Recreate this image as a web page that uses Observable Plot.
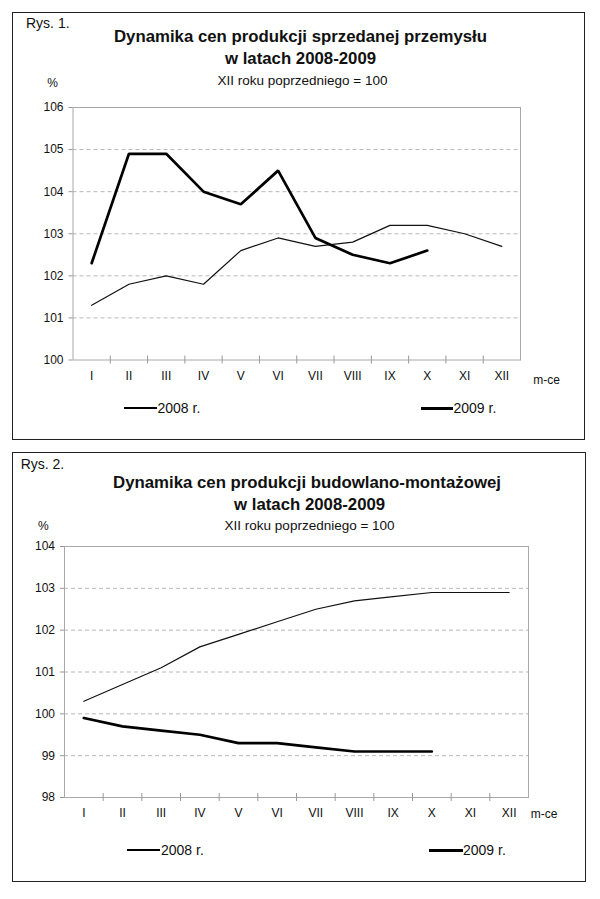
<!DOCTYPE html>
<html>
<head>
<meta charset="utf-8">
<script src="https://cdn.jsdelivr.net/npm/d3@7"></script>
<script src="https://cdn.jsdelivr.net/npm/@observablehq/plot@0.6"></script>
<style>
  html, body { margin: 0; padding: 0; background: #fff; }
  #page { position: relative; width: 600px; height: 899px; font-family: "Liberation Sans", Arial, sans-serif; color: #111; overflow: hidden; }
  .frame { position: absolute; box-sizing: border-box; border: 1.5px solid #222; }
  .t { position: absolute; white-space: nowrap; transform: translate(-50%, -50%); line-height: 1; }
  .l { position: absolute; white-space: nowrap; transform: translate(0, -50%); line-height: 1; }
  .title { font-weight: bold; font-size: 16.8px; }
  .sub { font-size: 13.5px; }
  .small { font-size: 12px; }
  .leg { font-size: 14px; }
  .legline { position: absolute; background: #000; }
  svg { position: absolute; left: 0; background: transparent; overflow: visible; }
</style>
</head>
<body>
<div id="page">
  <div class="frame" style="left:12px;top:12px;width:573px;height:428px;"></div>
  <div class="frame" style="left:12px;top:452px;width:574px;height:430px;"></div>

  <div class="l leg" style="left:26px;top:23px;">Rys. 1.</div>
  <div class="t title" style="left:300.5px;top:36.7px;">Dynamika cen produkcji sprzedanej przemysłu</div>
  <div class="t title" style="left:300.5px;top:59.3px;">w latach 2008-2009</div>
  <div class="t sub" style="left:302.5px;top:81px;">XII roku poprzedniego = 100</div>
  <div class="t small" style="left:52.7px;top:83.3px;">%</div>
  <div class="t small" style="left:546.7px;top:380px;">m-ce</div>
  <div class="legline" style="left:124px;top:407.4px;width:33px;height:1.2px;"></div>
  <div class="l leg" style="left:157.5px;top:408px;">2008 r.</div>
  <div class="legline" style="left:420.7px;top:406.5px;width:32.5px;height:3px;"></div>
  <div class="l leg" style="left:453.5px;top:408px;">2009 r.</div>

  <div class="l leg" style="left:20.7px;top:464px;">Rys. 2.</div>
  <div class="t title" style="left:307px;top:483.3px;">Dynamika cen produkcji budowlano-montażowej</div>
  <div class="t title" style="left:309.6px;top:505px;">w latach 2008-2009</div>
  <div class="t sub" style="left:309.6px;top:526px;">XII roku poprzedniego = 100</div>
  <div class="t small" style="left:43.3px;top:526px;">%</div>
  <div class="t small" style="left:544px;top:814px;">m-ce</div>
  <div class="legline" style="left:126.7px;top:849.4px;width:33.5px;height:1.2px;"></div>
  <div class="l leg" style="left:161px;top:850px;">2008 r.</div>
  <div class="legline" style="left:429.3px;top:848.5px;width:33.5px;height:3px;"></div>
  <div class="l leg" style="left:463px;top:850px;">2009 r.</div>
</div>
<script>
// ---- data ----
const months = ["I","II","III","IV","V","VI","VII","VIII","IX","X","XI","XII"];
const monthIdx = [1,2,3,4,5,6,7,8,9,10,11,12];
const monthBounds = [1.5,2.5,3.5,4.5,5.5,6.5,7.5,8.5,9.5,10.5,11.5];

// Rys. 1 – ceny produkcji sprzedanej przemysłu
const ind2008 = [101.3,101.8,102.0,101.8,102.6,102.9,102.7,102.8,103.2,103.2,103.0,102.7];
const ind2009 = [102.3,104.9,104.9,104.0,103.7,104.5,102.9,102.5,102.3,102.6];
const indTicks = [100,101,102,103,104,105,106];
const indGrid = [101,102,103,104,105];

// Rys. 2 – ceny produkcji budowlano-montażowej
const bud2008 = [100.3,100.7,101.1,101.6,101.9,102.2,102.5,102.7,102.8,102.9,102.9,102.9];
const bud2009 = [99.9,99.7,99.6,99.5,99.3,99.3,99.2,99.1,99.1,99.1];
const budTicks = [98,99,100,101,102,103,104];
const budGrid = [99,100,101,102,103];

const toRows = (vals) => vals.map((v, i) => ({m: monthIdx[i], v}));

function chart({s2008, s2009, ticks, grid, height, mt, mb, ml, mr, top}) {
  const yDomain = [ticks[0], ticks[ticks.length - 1]];
  const svg = Plot.plot({
    width: 600,
    height,
    marginTop: mt,
    marginBottom: mb,
    marginLeft: ml,
    marginRight: mr,
    style: {fontFamily: '"Liberation Sans", Arial, sans-serif', fontSize: "12px", color: "#111", background: "transparent"},
    x: {type: "linear", domain: [0.5, 12.5]},
    y: {type: "linear", domain: yDomain},
    marks: [
      Plot.ruleY(grid, {stroke: "#b8b8b8", strokeDasharray: "4,3", strokeWidth: 1}),
      Plot.frame({stroke: "#a8a8a8", strokeWidth: 1}),
      Plot.axisY({ticks, tickSize: 4, tickPadding: 5.5, tickFormat: (d) => String(d), stroke: "#999", fill: "#111", label: null, fontSize: 12}),
      Plot.axisX({ticks: monthBounds, tickSize: 8, dy: -4, tickFormat: () => "", stroke: "#999", label: null}),
      Plot.axisX({ticks: monthIdx, tickSize: 0, tickPadding: 11, tickFormat: (d) => months[d - 1], fill: "#111", label: null, fontSize: 12}),
      Plot.line(toRows(s2008), {x: "m", y: "v", stroke: "#111", strokeWidth: 1.2}),
      Plot.line(toRows(s2009), {x: "m", y: "v", stroke: "#000", strokeWidth: 2.7, strokeLinejoin: "miter"})
    ]
  });
  svg.style.top = top + "px";
  document.getElementById("page").appendChild(svg);
}

chart({s2008: ind2008, s2009: ind2009, ticks: indTicks, grid: indGrid,
       height: 440, mt: 107, mb: 80.5, ml: 72.5, mr: 80, top: 0});
chart({s2008: bud2008, s2009: bud2009, ticks: budTicks, grid: budGrid,
       height: 459, mt: 106, mb: 102, ml: 64, mr: 72, top: 440});
</script>
</body>
</html>
